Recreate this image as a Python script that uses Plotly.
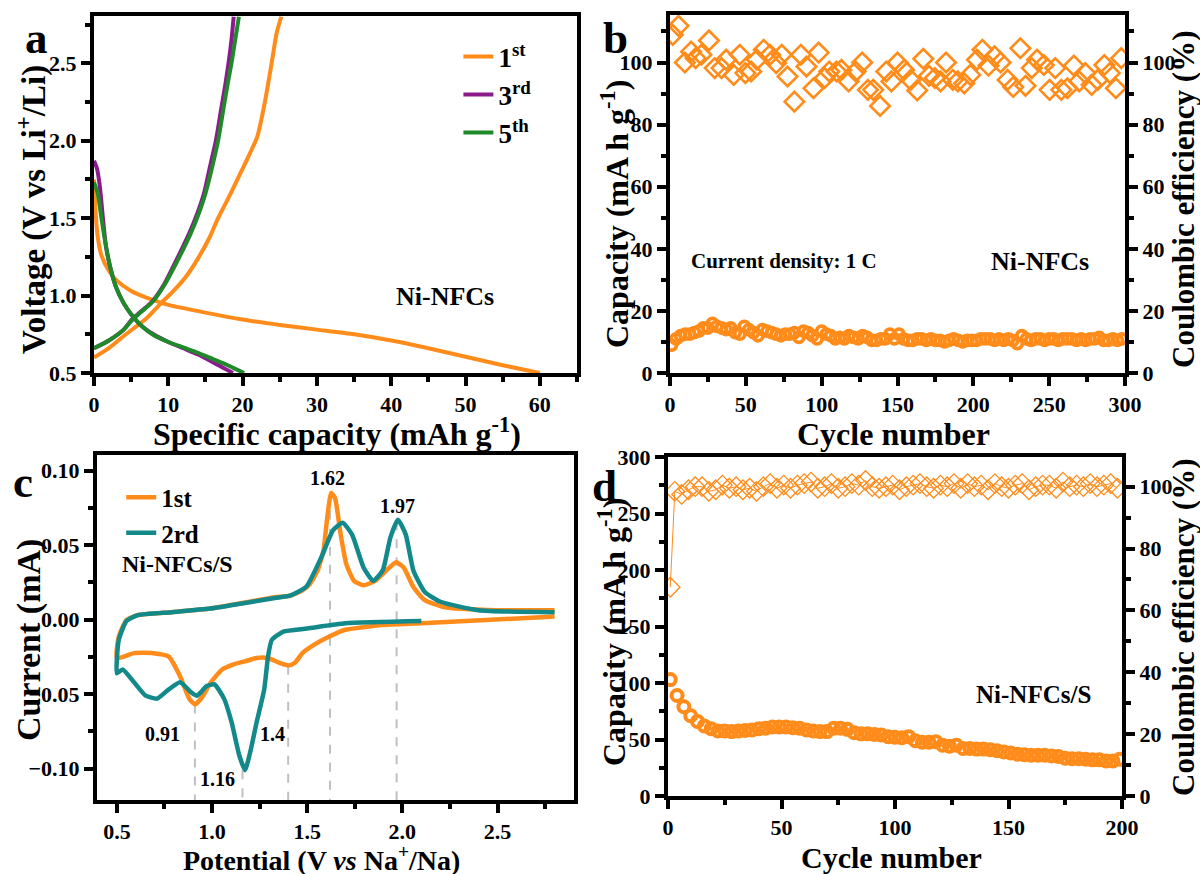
import plotly.graph_objects as go

# ---------------- Panel a: charge/discharge profiles ----------------
a1_dis_x = [0, 0.2, 0.5, 1, 2, 3, 5, 8, 10, 15, 20, 25, 30, 35, 40, 45, 50, 55, 60]
a1_dis_y = [1.75, 1.55, 1.38, 1.26, 1.16, 1.10, 1.03, 0.97, 0.94, 0.89, 0.845, 0.81, 0.78, 0.75, 0.71, 0.66, 0.605, 0.55, 0.50]
a1_chg_x = [0, 2, 4.3, 7, 9, 10.5, 12.5, 14, 15.5, 16.7, 18.3, 19.8, 21, 22, 23, 23.9, 24.6, 25.2]
a1_chg_y = [0.60, 0.66, 0.75, 0.85, 0.95, 1.02, 1.13, 1.24, 1.37, 1.50, 1.65, 1.80, 1.92, 2.03, 2.25, 2.50, 2.70, 2.80]

a3_dis_x = [0, 0.4, 0.8, 1.2, 1.6, 2.2, 3, 4, 5, 6.5, 8, 10, 12, 14, 16, 17.5, 18.7]
a3_dis_y = [1.87, 1.82, 1.70, 1.50, 1.32, 1.18, 1.05, 0.95, 0.88, 0.80, 0.75, 0.70, 0.66, 0.62, 0.57, 0.53, 0.50]
a3_chg_x = [0, 2, 4, 5, 6.4, 7.8, 9.4, 11.3, 12.8, 13.9, 14.8, 15.6, 16.4, 17.1, 17.7, 18.1, 18.5, 18.8]
a3_chg_y = [0.66, 0.71, 0.78, 0.84, 0.90, 0.96, 1.07, 1.25, 1.40, 1.53, 1.66, 1.83, 2.00, 2.20, 2.37, 2.50, 2.65, 2.80]

a5_dis_x = [0, 0.5, 1, 1.5, 2.2, 3, 4, 5, 6.5, 8, 10, 12, 14, 16, 18, 19.3, 20.2]
a5_dis_y = [1.73, 1.66, 1.50, 1.35, 1.18, 1.05, 0.95, 0.88, 0.80, 0.745, 0.70, 0.665, 0.63, 0.59, 0.55, 0.52, 0.50]
a5_chg_x = [0, 2, 4, 5.1, 6.5, 7.9, 9.5, 11.5, 13, 14.1, 15, 15.9, 16.7, 17.4, 18, 18.5, 19, 19.5]
a5_chg_y = [0.66, 0.71, 0.78, 0.84, 0.90, 0.96, 1.07, 1.25, 1.40, 1.53, 1.66, 1.83, 2.00, 2.20, 2.37, 2.50, 2.65, 2.80]

a_labels = ["1<sup>st</sup>", "3<sup>rd</sup>", "5<sup>th</sup>"]

# ---------------- Panel b: cycling at 1 C ----------------
b_cycles = list(range(1, 300, 3))
b_capacity = [9, 11, 12, 12.5, 12.5, 13, 13.5, 14.5, 14.5, 16,
              15, 14.5, 14, 14.5, 13, 12.5, 15, 14, 13, 12,
              14, 13.5, 13, 12.5, 12, 12.5, 12.5, 13, 11.5, 13.5,
              13, 12, 11, 13.5, 12.5, 12, 11, 11.5, 11, 12,
              11.5, 11, 12, 11.5, 10.5, 10.5, 11, 11, 12.5, 11,
              12.5, 11, 10.5, 10.5, 11, 11, 10.5, 11, 10.5, 10.5,
              10, 10.5, 11, 10.5, 10, 10.5, 10.5, 10.5, 11, 11,
              11, 10.5, 11, 10.5, 11, 10.5, 9.5, 12, 11, 10.5,
              11, 11, 10.5, 11, 11, 10.5, 11, 11, 11, 10.5,
              11, 10.5, 11, 11, 11.5, 10.5, 10.5, 11, 10.5, 11]
b_ce_cycles = [1.8, 5.6, 9.8, 13.9, 16.9, 20.7, 25.7, 29.5, 34, 37, 42, 46, 49.7, 53.5, 57.3, 61.8,
               66, 70, 73.7, 77.5, 82, 86.3, 90, 94.6, 98, 102, 105, 109.8, 113, 117.8, 122.4,
               126.7, 130.5, 134, 138.5, 142.6, 146, 150, 154.4, 158.7, 163, 167, 170.8, 174.6,
               178.4, 182, 186.5, 189.8, 194, 198, 202.4, 206, 210, 214, 218, 222.6, 226.3, 231,
               234.4, 238.5, 242, 246.5, 250.3, 254, 258, 262, 266.3, 269.8, 273.8, 278, 282,
               286.4, 290, 294, 297.5]
b_ce = [108.9, 111.8, 100, 103.5, 101.4, 102.5, 107.1, 98.2, 98.2, 100.9, 96, 102.5, 96.6, 97.1,
        100.9, 104.1, 102.5, 99.8, 102.5, 95.5, 87.4, 102.5, 98.7, 91.7, 103.2, 95, 97.1, 97.1,
        97.6, 93.9, 97.1, 100, 91.2, 91.2, 86, 97.1, 93.9, 100, 97.6, 94.4, 91, 101.2, 95.7, 95,
        93.9, 100, 94.4, 93.9, 93.3, 96, 100.9, 104.1, 99, 102, 100, 94.4, 92.1, 104.6, 92.5,
        98.2, 100.9, 99.2, 91.2, 98.2, 91.2, 91.7, 99, 93.9, 96.6, 92.8, 94.4, 99.2, 96.6, 91.7,
        101.4]

# ---------------- Panel c: cyclic voltammetry ----------------
c1_x = [2.80, 2.10, 1.897, 1.696, 1.616, 1.535, 1.475, 1.435, 1.405, 1.354, 1.294, 1.234, 1.173,
        1.113, 1.053, 0.992, 0.952, 0.912, 0.882, 0.832, 0.771, 0.691, 0.59, 0.50,
        0.51, 0.55, 0.61, 0.79, 0.99, 1.19, 1.33, 1.41, 1.475, 1.515, 1.555, 1.585, 1.605, 1.626,
        1.646, 1.676, 1.706, 1.746, 1.796, 1.857, 1.917, 1.967, 2.007, 2.058, 2.118, 2.218, 2.50, 2.80]
c1_y = [0.002, -0.0025, -0.0037, -0.007, -0.0114, -0.017, -0.0225, -0.029, -0.0307, -0.029, -0.0258,
        -0.0258, -0.028, -0.030, -0.0335, -0.0424, -0.0513, -0.0568, -0.0535, -0.038, -0.0247,
        -0.0225, -0.0225, -0.0258,
        -0.0114, -0.0003, 0.003, 0.005, 0.0074, 0.0118, 0.015, 0.016, 0.0196, 0.024, 0.033, 0.046,
        0.068, 0.085, 0.0816, 0.057, 0.037, 0.026, 0.023, 0.026, 0.033, 0.0384, 0.035, 0.0218,
        0.013, 0.0085, 0.0063, 0.0063]
c2_x = [2.10, 1.70, 1.50, 1.375, 1.314, 1.294, 1.274, 1.234, 1.204, 1.173, 1.143, 1.103, 1.063,
        1.013, 0.972, 0.922, 0.892, 0.832, 0.771, 0.711, 0.651, 0.59, 0.53, 0.50,
        0.51, 0.55, 0.61, 0.79, 0.99, 1.19, 1.33, 1.41, 1.495, 1.575, 1.636, 1.686, 1.736, 1.796,
        1.847, 1.897, 1.937, 1.977, 2.018, 2.058, 2.118, 2.20, 2.40, 2.80]
c2_y = [-0.001, -0.0025, -0.006, -0.008, -0.0136, -0.025, -0.047, -0.069, -0.087, -0.101, -0.091,
        -0.069, -0.053, -0.0435, -0.0446, -0.051, -0.049, -0.042, -0.047, -0.053, -0.051, -0.042,
        -0.0335, -0.036,
        -0.0136, -0.001, 0.003, 0.005, 0.0074, 0.0115, 0.0145, 0.016, 0.022, 0.042, 0.060, 0.065,
        0.057, 0.035, 0.026, 0.033, 0.055, 0.067, 0.057, 0.033, 0.0185, 0.012, 0.0063, 0.005]
c_labels = ["1st", "2rd"]
peak_x = [0.91, 1.16, 1.4, 1.62, 1.97]
peak_y = [-0.057, -0.101, -0.031, 0.085, 0.066]
peak_text = ["0.91", "1.16", "1.4", "1.62", "1.97"]
peak_text_x = [0.74, 1.03, 1.318, 1.605, 1.977]
peak_text_y = [-0.0767, -0.1066, -0.0767, 0.095, 0.076]

# ---------------- Panel d: Ni-NFCs/S cycling ----------------
d_cycles = list(range(1, 201, 3))
d_capacity = [103, 89, 79, 71, 66, 62, 59.5, 57.5, 57.5, 57, 57.5, 58, 58.5, 59.5, 60, 61, 61,
              61, 60.5, 60, 58.5, 57.5, 57, 57, 60, 60, 59, 56, 55, 55, 54.5, 54, 52.5, 52,
              51.5, 52.5, 49, 47.5, 47.5, 48, 45, 44, 45, 42, 42, 41.5, 41.5, 41, 40, 39, 38,
              37, 36.5, 36, 36, 36, 35.5, 35, 33.5, 33, 33, 32.5, 32, 32, 31, 31, 32.5]
d_ce_cycles = [1] + list(range(3, 201, 3))
d_ce = [67.5, 98.5, 97.5, 99, 100, 100, 98.5, 99, 100.5, 99.5, 100, 99, 99.5, 98.5, 100, 101,
        99.5, 100.5, 99.5, 100.5, 101, 101.5, 99.5, 100, 101, 99.5, 100, 101, 100.5, 102, 100,
        99.5, 100, 100.5, 99, 100, 100.5, 101, 100, 99.5, 100.5, 100, 101, 99.5, 101, 100,
        100.5, 99, 101, 100, 99.5, 100.5, 101, 99, 100, 100.5, 100.5, 99.5, 101.5, 100, 100.5,
        100, 101, 100, 100.5, 101, 99.5]

ORANGE = "#FF8C1A"
PURPLE = "#8B1A8B"
GREEN = "#1F8A2A"
TEAL = "#13898A"
FONT = "Liberation Serif"

fig = go.Figure()

def join(x1, y1, x2, y2):
    return x1 + [None] + x2, y1 + [None] + y2

for (dx, dy, cx, cy), col, lab in zip(
        [(a1_dis_x, a1_dis_y, a1_chg_x, a1_chg_y),
         (a3_dis_x, a3_dis_y, a3_chg_x, a3_chg_y),
         (a5_dis_x, a5_dis_y, a5_chg_x, a5_chg_y)],
        [ORANGE, PURPLE, GREEN], a_labels):
    xx, yy = join(dx, dy, cx, cy)
    fig.add_trace(go.Scatter(x=xx, y=yy, mode="lines", name=lab, legend="legend",
                             line=dict(color=col, width=4, shape="spline", smoothing=0.6),
                             xaxis="x", yaxis="y"))

fig.add_trace(go.Scatter(x=b_cycles, y=b_capacity, mode="markers", showlegend=False,
                         marker=dict(symbol="circle-open", size=10, color=ORANGE, line=dict(width=3.8)),
                         xaxis="x2", yaxis="y2"))
fig.add_trace(go.Scatter(x=b_ce_cycles, y=b_ce, mode="markers", showlegend=False,
                         marker=dict(symbol="diamond-open", size=15, color=ORANGE, line=dict(width=2.6)),
                         xaxis="x2", yaxis="y5"))

fig.add_trace(go.Scatter(x=c1_x, y=c1_y, mode="lines", name=c_labels[0], legend="legend2",
                         line=dict(color=ORANGE, width=4.5, shape="spline", smoothing=0.5),
                         xaxis="x3", yaxis="y3"))
fig.add_trace(go.Scatter(x=c2_x, y=c2_y, mode="lines", name=c_labels[1], legend="legend2",
                         line=dict(color=TEAL, width=4.5, shape="spline", smoothing=0.5),
                         xaxis="x3", yaxis="y3"))

fig.add_trace(go.Scatter(x=d_cycles, y=d_capacity, mode="markers", showlegend=False,
                         marker=dict(symbol="circle-open", size=11, color=ORANGE, line=dict(width=4)),
                         xaxis="x4", yaxis="y4"))
fig.add_trace(go.Scatter(x=d_ce_cycles, y=d_ce, mode="lines+markers", showlegend=False,
                         line=dict(color=ORANGE, width=1),
                         marker=dict(symbol="diamond-open", size=15, color=ORANGE, line=dict(width=1.3)),
                         xaxis="x4", yaxis="y6"))

C3_YMIN, C3_YMAX = -0.121, 0.1104

shapes = []
for px, py in zip(peak_x, peak_y):
    shapes.append(dict(type="line", xref="x3", yref="y3", x0=px, x1=px, y0=py, y1=C3_YMIN,
                       line=dict(color="#333333", width=2, dash="dash"), layer="below"))

tick_font = dict(family=FONT, size=22, color="black", weight="bold")


def axis(domain, rng, dtick, minor, anchor, **kw):
    d = dict(domain=domain, range=rng, dtick=dtick, tick0=0, anchor=anchor,
             showline=True, linewidth=4, linecolor="black", mirror=True,
             ticks="outside", ticklen=9, tickwidth=3.5, tickcolor="black",
             minor=dict(ticks="outside", ticklen=5, tickwidth=3.5, tickcolor="black", dtick=minor),
             showgrid=False, zeroline=False, tickfont=tick_font, automargin=False)
    d.update(kw)
    return d


W, H = 1200.0, 874.0

def dom_x(left, right):
    return [left / W, right / W]

def dom_y(top, bottom):
    return [1 - bottom / H, 1 - top / H]

xa, ya = dom_x(94, 577), dom_y(16, 373)
xb, yb = dom_x(670, 1125), dom_y(15, 373)
xc, yc = dom_x(97, 574), dom_y(455, 800)
xd, yd = dom_x(668, 1122), dom_y(457, 796)

fig.update_layout(
    template="simple_white",
    width=1200, height=874,
    margin=dict(l=0, r=0, t=0, b=0),
    paper_bgcolor="white", plot_bgcolor="white",
    font=dict(family=FONT, color="black"),
    xaxis=axis(xa, [0, 65], 10, 5, "y"),
    yaxis=axis(ya, [0.5, 2.805], 0.5, 0.25, "x", tick0=0.5, tickformat=".1f"),
    xaxis2=axis(xb, [0, 300], 50, 25, "y2"),
    yaxis2=axis(yb, [0, 115.3], 20, 10, "x2"),
    yaxis5=axis(yb, [0, 115.3], 20, 10, "x2", side="right", overlaying="y2", mirror=False),
    xaxis3=axis(xc, [0.3955, 2.902], 0.5, 0.25, "y3", tick0=0.5, tickformat=".1f"),
    yaxis3=axis(yc, [C3_YMIN, C3_YMAX], 0.05, 0.025, "x3", tickformat=".2f"),
    xaxis4=axis(xd, [0, 200], 50, 25, "y4"),
    yaxis4=axis(yd, [0, 300], 50, 25, "x4"),
    yaxis6=axis(yd, [0, 109.6], 20, 10, "x4", side="right", overlaying="y4", mirror=False),
    legend=dict(x=0.382, y=0.963, xanchor="left", yanchor="top", bgcolor="rgba(0,0,0,0)",
                font=dict(family=FONT, size=27, color="black", weight="bold"), tracegroupgap=2),
    legend2=dict(x=0.101, y=0.457, xanchor="left", yanchor="top", bgcolor="rgba(0,0,0,0)",
                 font=dict(family=FONT, size=25, color="black", weight="bold")),
    shapes=shapes,
)

ann = []

def paper_text(text, px, py, size, angle=0):
    ann.append(dict(text=text, x=px / W, y=1 - py / H, xref="paper", yref="paper",
                    xanchor="center", yanchor="middle", showarrow=False, textangle=angle,
                    font=dict(family=FONT, size=size, color="black", weight="bold")))

def data_text(text, x, y, xr, yr, size):
    ann.append(dict(text=text, x=x, y=y, xref=xr, yref=yr, xanchor="center", yanchor="middle",
                    showarrow=False, font=dict(family=FONT, size=size, color="black", weight="bold")))

# axis titles
paper_text("Specific capacity (mAh g<sup>-1</sup>)", 337, 432, 32)
paper_text("Voltage (V vs Li<sup>+</sup>/Li)", 31, 210, 33, -90)
paper_text("Cycle number", 893, 434, 32)
paper_text("Capacity (mA h g<sup>-1</sup>)", 615, 214, 32, -90)
paper_text("Coulombic efficiency (%)", 1183, 200, 31, -90)
paper_text("Potential (V <i>vs</i> Na<sup>+</sup>/Na)", 321, 858, 28)
paper_text("Current (mA)", 29, 640, 34, -90)
paper_text("Cycle number", 891, 857, 30)
paper_text("Capacity (mA h g<sup>-1</sup>)", 612, 632, 32, -90)
paper_text("Coulombic efficiency (%)", 1183, 628, 31, -90)

# panel letters
for lab, px, py in [("a", 36, 38), ("b", 615, 38), ("c", 23, 482), ("d", 604, 486)]:
    paper_text(lab, px, py, 45)

# in-plot labels
data_text("Ni-NFCs", 47.3, 0.995, "x", "y", 26)
data_text("Current density: 1 C", 75, 36, "x2", "y2", 21)
data_text("Ni-NFCs", 244, 36, "x2", "y2", 26)
data_text("Ni-NFCs/S", 0.82, 0.037, "x3", "y3", 24)
data_text("Ni-NFCs/S", 161, 90, "x4", "y4", 25)
for t, tx, ty in zip(peak_text, peak_text_x, peak_text_y):
    data_text(t, tx, ty, "x3", "y3", 20)

fig.update_layout(annotations=ann)
fig.write_html("out.html")
